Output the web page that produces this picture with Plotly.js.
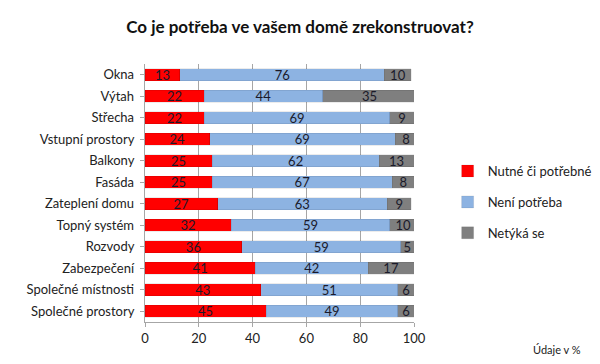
<!DOCTYPE html>
<html><head><meta charset="utf-8">
<script src="https://cdn.plot.ly/plotly-3.0.1.min.js"></script>
<style>body{margin:0}#c{width:600px;height:364px}</style>
</head><body><div id="c"></div>
<script>
const categories = ["Okna","Výtah","Střecha","Vstupní prostory","Balkony","Fasáda","Zateplení domu","Topný systém","Rozvody","Zabezpečení","Společné místnosti","Společné prostory"];
const nutne = [13,22,22,24,25,25,27,32,36,41,43,45];
const neni = [76,44,69,69,62,67,63,59,59,42,51,49];
const netyka = [10,35,9,8,13,8,9,10,5,17,6,6];
const seriesNames = ["Nutné či potřebné","Není potřeba","Netýká se"];
const colors = ["#ff0000","#8db3e2","#7f7f7f"];
const font = "Lato, 'Open Sans', sans-serif";
const data = [nutne, neni, netyka].map((v,i)=>({
  type:"bar", orientation:"h", y:categories, x:v, name:seriesNames[i], legendgroup:"g"+i,
  marker:{color:colors[i], line:{color:"rgba(0,0,0,0.15)", width:0.5}},
  text:v.map(String), textposition:"inside", insidetextanchor:"middle", textangle:0,
  textfont:{color:"#1a1a2a", size:13, family:font}, constraintext:"none",
  hoverinfo:"x+name"
}));
const layout = {
  width:600, height:364, barmode:"stack", bargap:0.46,
  margin:{l:145, r:186, t:64, b:42, autoexpand:false},
  paper_bgcolor:"#fff", plot_bgcolor:"#fff",
  font:{family:font, color:"#222", size:13},
  title:{text:"<b>Co je potřeba ve vašem domě zrekonstruovat?</b>", x:0.5, xanchor:"center", y:0.925, yanchor:"middle", font:{size:17, color:"#111", family:font}},
  xaxis:{range:[0,100], dtick:20, showgrid:true, gridcolor:"#a6a6a6", gridwidth:1, zeroline:false, showline:true, linecolor:"#a6a6a6", ticks:"outside", ticklen:4, tickcolor:"#a6a6a6", tickfont:{size:13, color:"#222"}, fixedrange:true},
  yaxis:{autorange:"reversed", showline:true, linecolor:"#a6a6a6", ticks:"outside", ticklen:4, tickcolor:"#a6a6a6", tickfont:{size:13, color:"#222"}, ticksuffix:" "},
  legend:{x:1.125, y:0.465, xanchor:"left", yanchor:"middle", font:{size:13}, tracegroupgap:11, itemwidth:30, traceorder:"grouped"},
  showlegend:true,
  annotations:[{text:"Údaje v %", xref:"paper", yref:"paper", x:1.628, y:-0.108, xanchor:"right", yanchor:"middle", showarrow:false, font:{size:11, color:"#222"}}]
};
Plotly.newPlot("c", data, layout, {displayModeBar:false, staticPlot:true});
</script></body></html>
